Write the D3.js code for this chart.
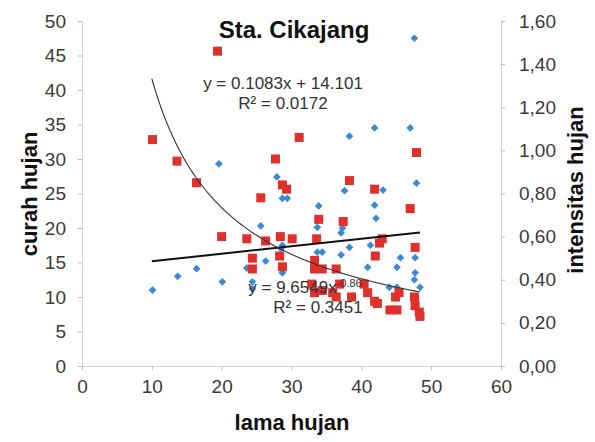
<!DOCTYPE html>
<html>
<head>
<meta charset="utf-8">
<script src="https://cdn.jsdelivr.net/npm/d3@7"></script>
<style>
  body { margin: 0; background: #fff; }
  svg { display: block; }
</style>
</head>
<body>
<svg id="chart" width="595" height="442"></svg>
<script>
// curah hujan (left axis) vs lama hujan
const blueX = [10.1, 13.7, 16.4, 20.1, 24.4, 24.4, 23.6, 26.3, 28.7, 25.6, 28.5, 19.6, 27.9, 28.7, 29.4,
  38.3, 41.9, 47.0, 47.9, 37.6, 43.1, 41.9, 33.9, 42.1, 47.6, 33.7, 37.3, 38.3, 33.7, 34.4, 37.1,
  41.3, 45.6, 47.7, 45.1, 40.9, 47.7, 47.6, 48.4, 44.0, 45.1, 37.1, 28.7];
const blueY = [11.0, 13.0, 14.1, 12.2, 12.2, 11.2, 14.2, 15.2, 13.5, 20.3, 17.0, 29.3, 27.4, 24.3, 24.3,
  33.3, 34.5, 34.5, 26.5, 25.4, 25.5, 23.3, 23.2, 21.4, 47.5, 20.1, 20.0, 17.2, 16.5, 16.5, 16.1,
  17.5, 15.7, 15.7, 14.3, 14.3, 13.5, 12.5, 11.4, 11.4, 11.4, 19.3, 17.5];

// intensitas hujan (right axis) vs lama hujan
const redX = [10.1, 13.6, 16.4, 19.4, 25.6, 27.7, 28.7, 29.3, 31.1, 20.0, 23.6, 26.3, 28.4, 24.4, 24.4,
  28.3, 28.7, 30.1, 33.6, 33.9, 37.4, 38.3, 41.9, 47.0, 47.9, 43.0, 42.6, 42.0, 47.7, 33.3, 33.3,
  34.4, 36.4, 32.9, 33.3, 34.4, 36.9, 35.9, 36.4, 38.6, 40.4, 40.9, 41.9, 42.3, 44.1, 45.1, 45.4,
  44.9, 47.6, 47.7, 48.3, 48.4];
const redY = [1.05, 0.95, 0.85, 1.46, 0.78, 0.96, 0.84, 0.82, 1.06, 0.60, 0.59, 0.58, 0.60, 0.50, 0.45,
  0.51, 0.46, 0.59, 0.59, 0.68, 0.67, 0.86, 0.82, 0.73, 0.99, 0.59, 0.57, 0.51, 0.55, 0.49, 0.45,
  0.45, 0.45, 0.38, 0.34, 0.35, 0.38, 0.34, 0.32, 0.32, 0.38, 0.34, 0.30, 0.29, 0.26, 0.26, 0.34,
  0.32, 0.32, 0.28, 0.25, 0.23];

const xTicks = [0, 10, 20, 30, 40, 50, 60];
const leftTicks = [0, 5, 10, 15, 20, 25, 30, 35, 40, 45, 50];
const rightTicks = [0, 0.2, 0.4, 0.6, 0.8, 1.0, 1.2, 1.4, 1.6];

// trend lines as in the original
const linA = 0.1083, linB = 14.101;
const powA = 9.6549, powB = -0.86;
const trendRange = [10, 48.4];

const svg = d3.select("#chart");
const x = d3.scaleLinear().domain([0, 60]).range([82, 501]);
const yL = d3.scaleLinear().domain([0, 50]).range([366, 21]);
const yR = d3.scaleLinear().domain([0, 1.6]).range([366, 21]);

const narrow = "'Liberation Sans Narrow', 'Liberation Sans', Arial, sans-serif";
const sans = "'Liberation Sans', Arial, sans-serif";
const comma = d => d3.format(".2f")(d).replace(".", ",");

// axes
const gx = svg.append("g").attr("transform", "translate(0,366)")
  .call(d3.axisBottom(x).tickValues(xTicks).tickSize(4).tickPadding(10));
const gl = svg.append("g").attr("transform", "translate(82,0)")
  .call(d3.axisLeft(yL).tickValues(leftTicks).tickSize(4).tickPadding(12));
const gr = svg.append("g").attr("transform", "translate(501,0)")
  .call(d3.axisRight(yR).tickValues(rightTicks).tickFormat(comma).tickSize(4).tickPadding(14));

[gx, gl, gr].forEach(g => {
  g.select(".domain").attr("stroke", "#d4d4d4");
  g.selectAll(".tick line").attr("stroke", "#bbb");
  g.selectAll(".tick text").attr("fill", "#3a3a3a")
    .style("font-family", narrow).style("font-size", "19px");
});

// points
svg.append("g").selectAll("path").data(blueX).join("path")
  .attr("d", d3.symbol(d3.symbolSquare, 30))
  .attr("transform", (d, i) => `translate(${x(d)},${yL(blueY[i])}) rotate(45)`)
  .attr("fill", "#3b8ad8");

svg.append("g").selectAll("rect").data(redX).join("rect")
  .attr("x", d => x(d) - 4.5)
  .attr("y", (d, i) => yR(redY[i]) - 4.5)
  .attr("width", 9).attr("height", 9)
  .attr("fill", "#e0302c");

// trendlines
const linLine = d3.line().x(d => x(d)).y(d => yL(linA * d + linB));
svg.append("path").datum(trendRange)
  .attr("d", linLine).attr("fill", "none")
  .attr("stroke", "#111").attr("stroke-width", 2);

const powPts = d3.range(trendRange[0], trendRange[1] + 0.01, 0.2);
const powLine = d3.line().x(d => x(d)).y(d => yR(powA * Math.pow(d, powB)));
svg.append("path").datum(powPts)
  .attr("d", powLine).attr("fill", "none")
  .attr("stroke", "#333").attr("stroke-width", 1.1);

// equation labels
const eq = (tx, ty, txt) => svg.append("text").attr("x", tx).attr("y", ty)
  .attr("text-anchor", "middle").attr("fill", "#333")
  .style("font-family", narrow).style("font-size", "17px").text(txt);
eq(283, 89, "y = 0.1083x + 14.101");
eq(283, 109, "R² = 0.0172");
const p = eq(305, 293, "y = 9.6549x");
p.append("tspan").attr("dy", -6).style("font-size", "11px").text("-0.86");
eq(318, 313, "R² = 0.3451");

// title and axis titles
svg.append("text").attr("x", 294).attr("y", 38).attr("text-anchor", "middle")
  .style("font-family", sans).style("font-weight", "bold").style("font-size", "24px")
  .attr("fill", "#111").text("Sta. Cikajang");

svg.append("text").attr("x", 292).attr("y", 430).attr("text-anchor", "middle")
  .style("font-family", sans).style("font-weight", "bold").style("font-size", "22px")
  .attr("fill", "#111").text("lama hujan");

svg.append("text").attr("transform", "translate(37,194) rotate(-90)").attr("text-anchor", "middle")
  .style("font-family", sans).style("font-weight", "bold").style("font-size", "22px")
  .attr("fill", "#111").text("curah hujan");

svg.append("text").attr("transform", "translate(583,190) rotate(-90)").attr("text-anchor", "middle")
  .style("font-family", sans).style("font-weight", "bold").style("font-size", "22px")
  .attr("fill", "#111").text("intensitas hujan");
</script>
</body>
</html>
